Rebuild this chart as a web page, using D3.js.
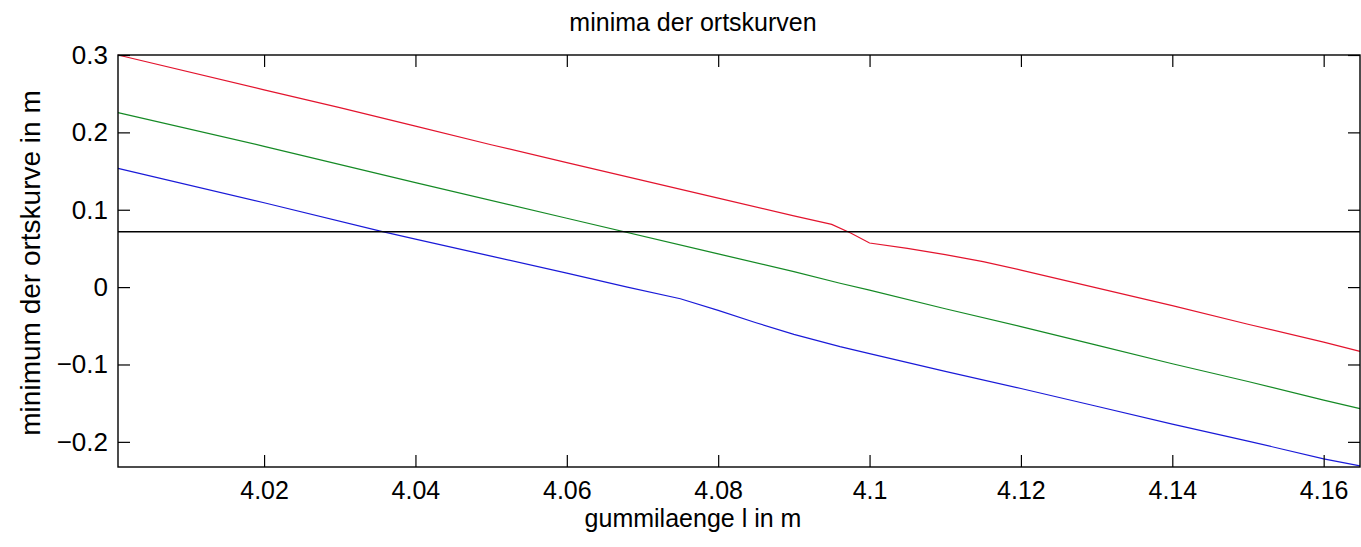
<!DOCTYPE html>
<html>
<head>
<meta charset="utf-8">
<script src="https://cdn.jsdelivr.net/npm/d3@7"></script>
<style>
  body { margin: 0; background: #fff; }
  text { font-family: "Liberation Sans", Arial, Helvetica, sans-serif; fill: #000; }
</style>
</head>
<body>
<svg id="chart" width="1361" height="547"></svg>
<script>
// x values (gummilaenge) and minima for the three curves
var redX = [4.0007, 4.02, 4.03, 4.04, 4.05, 4.06, 4.07, 4.08, 4.09, 4.095, 4.0975, 4.1, 4.105, 4.11, 4.115, 4.12, 4.13, 4.14, 4.15, 4.16, 4.1648];
var redY = [0.300, 0.255, 0.232, 0.208, 0.184, 0.161, 0.138, 0.115, 0.092, 0.081, 0.070, 0.057, 0.050, 0.042, 0.033, 0.022, -0.001, -0.024, -0.048, -0.071, -0.083];

var greenX = [4.0007, 4.02, 4.04, 4.06, 4.08, 4.09, 4.0961, 4.1, 4.11, 4.12, 4.13, 4.14, 4.15, 4.16, 4.1648];
var greenY = [0.2255, 0.182, 0.135, 0.089, 0.043, 0.020, 0.005, -0.004, -0.028, -0.051, -0.075, -0.099, -0.122, -0.146, -0.157];

var blueX = [4.0007, 4.02, 4.0355, 4.04, 4.05, 4.06, 4.068, 4.075, 4.08, 4.085, 4.09, 4.0961, 4.1, 4.11, 4.12, 4.13, 4.14, 4.15, 4.16, 4.1648];
var blueY = [0.1535, 0.109, 0.072, 0.062, 0.040, 0.018, 0.000, -0.015, -0.030, -0.046, -0.061, -0.077, -0.086, -0.109, -0.131, -0.154, -0.177, -0.199, -0.222, -0.231];

var thresholdY = 0.0715;

var xTicks = [4.02, 4.04, 4.06, 4.08, 4.1, 4.12, 4.14, 4.16];
var yTicks = [-0.2, -0.1, 0, 0.1, 0.2, 0.3];

var titleText = "minima der ortskurven";
var xLabel = "gummilaenge l in m";
var yLabel = "minimum der ortskurve in m";

var svg = d3.select("#chart");

var x = d3.scaleLinear()
    .domain([4.0007, 4.1648])
    .range([118, 1360]);

var y = d3.scaleLinear()
    .domain([-0.2325, 0.3])
    .range([467, 55]);

var line = d3.line()
    .x(function (d) { return x(d[0]); })
    .y(function (d) { return y(d[1]); });

var plot = svg.append("g");

plot.append("path")
    .datum(d3.zip(redX, redY))
    .attr("fill", "none")
    .attr("stroke", "#e3142e")
    .attr("stroke-width", 1.2)
    .attr("d", line);

plot.append("path")
    .datum(d3.zip(greenX, greenY))
    .attr("fill", "none")
    .attr("stroke", "#158a25")
    .attr("stroke-width", 1.2)
    .attr("d", line);

plot.append("path")
    .datum(d3.zip(blueX, blueY))
    .attr("fill", "none")
    .attr("stroke", "#1a1ad8")
    .attr("stroke-width", 1.2)
    .attr("d", line);

plot.append("line")
    .attr("x1", x.range()[0])
    .attr("x2", x.range()[1])
    .attr("y1", y(thresholdY))
    .attr("y2", y(thresholdY))
    .attr("stroke", "#000")
    .attr("stroke-width", 1.4);

// axes, ticks inside on all sides
var tickLen = 12;

var xAxisBottom = d3.axisBottom(x).tickValues(xTicks).tickSizeInner(-tickLen).tickSizeOuter(0)
    .tickPadding(14)
    .tickFormat(function (d) { return String(+d.toFixed(2)); });
var xAxisTop = d3.axisTop(x).tickValues(xTicks).tickSizeInner(-tickLen).tickSizeOuter(0).tickFormat("");
var yAxisLeft = d3.axisLeft(y).tickValues(yTicks).tickSizeInner(-tickLen).tickSizeOuter(0)
    .tickPadding(10)
    .tickFormat(function (d) { return d === 0 ? "0" : d3.format(".1f")(d); });
var yAxisRight = d3.axisRight(y).tickValues(yTicks).tickSizeInner(-tickLen).tickSizeOuter(0).tickFormat("");

function styleAxis(g, size) {
    g.select(".domain").remove();
    g.selectAll(".tick line").attr("stroke", "#000").attr("stroke-width", 1.2);
    g.selectAll(".tick text")
        .style("font-family", '"Liberation Sans", Arial, sans-serif')
        .style("font-size", size + "px")
        .attr("fill", "#000");
}

svg.append("g").attr("transform", "translate(0," + y.range()[0] + ")").call(xAxisBottom).call(styleAxis, 25);
svg.append("g").attr("transform", "translate(0," + y.range()[1] + ")").call(xAxisTop).call(styleAxis, 25);
svg.append("g").attr("transform", "translate(" + x.range()[0] + ",0)").call(yAxisLeft).call(styleAxis, 26);
svg.append("g").attr("transform", "translate(" + x.range()[1] + ",0)").call(yAxisRight).call(styleAxis, 26);

// box
svg.append("rect")
    .attr("x", x.range()[0])
    .attr("y", y.range()[1])
    .attr("width", x.range()[1] - x.range()[0])
    .attr("height", y.range()[0] - y.range()[1])
    .attr("fill", "none")
    .attr("stroke", "#000")
    .attr("stroke-width", 1.4);

svg.append("text")
    .attr("x", 693)
    .attr("y", 31)
    .attr("text-anchor", "middle")
    .style("font-size", "25px")
    .text(titleText);

svg.append("text")
    .attr("x", 693)
    .attr("y", 527)
    .attr("text-anchor", "middle")
    .style("font-size", "25px")
    .text(xLabel);

svg.append("text")
    .attr("transform", "translate(40,263) rotate(-90)")
    .attr("text-anchor", "middle")
    .style("font-size", "28px")
    .text(yLabel);
</script>
</body>
</html>
